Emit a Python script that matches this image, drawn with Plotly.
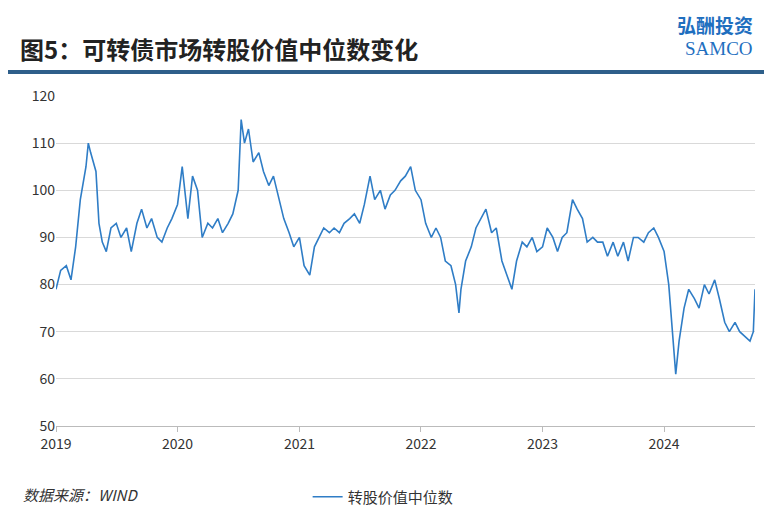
import plotly.graph_objects as go

dates = ["2019-01-01","2019-01-15","2019-02-01","2019-02-15","2019-03-01","2019-03-15","2019-04-01","2019-04-08","2019-04-15","2019-05-01","2019-05-10","2019-05-20","2019-06-01","2019-06-15","2019-07-01","2019-07-15","2019-08-01","2019-08-15","2019-09-01","2019-09-15","2019-10-01","2019-10-15","2019-11-01","2019-11-15","2019-12-01","2019-12-15",
"2020-01-01","2020-01-15","2020-02-01","2020-02-15","2020-03-01","2020-03-15","2020-04-01","2020-04-15","2020-05-01","2020-05-15","2020-06-01","2020-06-15","2020-07-01","2020-07-10","2020-07-20","2020-08-01","2020-08-15","2020-09-01","2020-09-15","2020-10-01","2020-10-15","2020-11-01","2020-11-15","2020-12-01","2020-12-15",
"2021-01-01","2021-01-15","2021-02-01","2021-02-15","2021-03-01","2021-03-15","2021-04-01","2021-04-15","2021-05-01","2021-05-15","2021-06-01","2021-06-15","2021-07-01","2021-07-15","2021-08-01","2021-08-15","2021-09-01","2021-09-15","2021-10-01","2021-10-15","2021-11-01","2021-11-15","2021-12-01","2021-12-15",
"2022-01-01","2022-01-15","2022-02-01","2022-02-15","2022-03-01","2022-03-15","2022-04-01","2022-04-15","2022-04-25","2022-05-01","2022-05-15","2022-06-01","2022-06-15","2022-07-01","2022-07-15","2022-08-01","2022-08-15","2022-09-01","2022-09-15","2022-10-01","2022-10-15","2022-11-01","2022-11-15","2022-12-01","2022-12-15",
"2023-01-01","2023-01-15","2023-02-01","2023-02-15","2023-03-01","2023-03-15","2023-04-01","2023-04-15","2023-05-01","2023-05-15","2023-06-01","2023-06-15","2023-07-01","2023-07-15","2023-08-01","2023-08-15","2023-09-01","2023-09-15","2023-10-01","2023-10-15","2023-11-01","2023-11-15","2023-12-01","2023-12-15",
"2024-01-01","2024-01-15","2024-01-25","2024-02-05","2024-02-15","2024-03-01","2024-03-15","2024-04-01","2024-04-15","2024-05-01","2024-05-15","2024-06-01","2024-06-15","2024-07-01","2024-07-15","2024-08-01","2024-08-15","2024-09-01","2024-09-15","2024-09-25","2024-09-30"]
values = [79,83,84,81,88,98,105,110,108,104,93,89,87,92,93,90,92,87,93,96,92,94,90,89,92,94,
97,105,94,103,100,90,93,92,94,91,93,95,100,115,110,113,106,108,104,101,103,98,94,91,88,
90,84,82,88,90,92,91,92,91,93,94,95,93,97,103,98,100,96,99,100,102,103,105,100,
98,93,90,92,90,85,84,80,74,79,85,88,92,94,96,91,92,85,82,79,85,89,88,90,87,
88,92,90,87,90,91,98,96,94,89,90,89,89,86,89,86,89,85,90,90,89,91,92,90,
87,80,70,61,68,75,79,77,75,80,78,81,77,72,70,72,70,69,68,70,79]
series_name = "转股价值中位数"
years = ["2019","2020","2021","2022","2023","2024"]

fig = go.Figure(go.Scatter(x=dates, y=values, mode="lines", name=series_name,
                           line=dict(color="#2f7dc6", width=1.6)))
fig.update_layout(
    width=772, height=522, paper_bgcolor="white", plot_bgcolor="white",
    margin=dict(l=48, r=25, t=88, b=104),
    font=dict(family="Noto Sans CJK SC", color="#333"),
    showlegend=True,
    legend=dict(orientation="h", x=0.36, xanchor="left", y=-0.165, yanchor="top", font=dict(size=15)),
    xaxis=dict(range=["2019-01-01","2024-09-30"], tickvals=[y+"-01-01" for y in years], ticktext=years,
               showgrid=False, showline=True, linecolor="#bbb", ticks="outside", ticklen=5, tickcolor="#bbb",
               tickfont=dict(size=14)),
    yaxis=dict(range=[50,120], dtick=10, showgrid=True, gridcolor="#d9d9d9", zeroline=False,
               tickfont=dict(size=14)),
    shapes=[dict(type="line", xref="paper", yref="paper", x0=-0.072, x1=1.036, y0=1.073, y1=1.073,
                 line=dict(color="#2e5f8a", width=4))],
    annotations=[
        dict(text="<b>图5：可转债市场转股价值中位数变化</b>", xref="paper", yref="paper", x=-0.055, y=1.085,
             xanchor="left", yanchor="bottom", showarrow=False, font=dict(size=24, color="#222")),
        dict(text="<b>弘酬投资</b>", xref="paper", yref="paper", x=1.0, y=1.17, xanchor="right", yanchor="bottom",
             showarrow=False, font=dict(size=19, color="#1f6fbf")),
        dict(text="SAMCO", xref="paper", yref="paper", x=1.0, y=1.105, xanchor="right", yanchor="bottom",
             showarrow=False, font=dict(size=19, color="#1f6fbf", family="Liberation Serif")),
        dict(text="<i>数据来源：WIND</i>", xref="paper", yref="paper", x=-0.05, y=-0.17, xanchor="left",
             yanchor="top", showarrow=False, font=dict(size=15, color="#333")),
    ],
)
fig.write_html("out.html")
